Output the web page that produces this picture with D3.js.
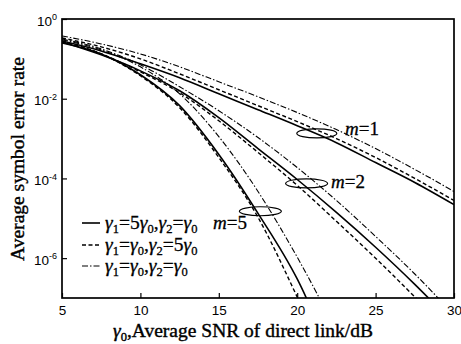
<!DOCTYPE html>
<html>
<head>
<meta charset="utf-8">
<script src="https://cdn.jsdelivr.net/npm/d3@7"></script>
<style>
  body { margin: 0; background: #fff; }
  svg { display: block; }
</style>
</head>
<body>
<div id="chart"></div>
<script>
// SNR of the direct link (dB)
var snr = [5, 7.5, 10, 12.5, 15, 17.5, 20, 22.5, 25, 27.5, 30];

// average SER, per fading parameter m
var m1Solid   = [0.28, 0.158, 0.075, 0.0335, 0.0133, 5.3e-3, 2.1e-3, 7.9e-4, 2.5e-4, 7.9e-5, 2.2e-5];
var m1Dashed  = [0.335, 0.2, 0.1, 0.042, 0.0168, 6.7e-3, 2.66e-3, 1.0e-3, 3.35e-4, 1.0e-4, 2.8e-5];
var m1DashDot = [0.376, 0.237, 0.133, 0.063, 0.0266, 0.0112, 4.5e-3, 1.68e-3, 5.6e-4, 1.68e-4, 4.7e-5];

var m2Solid   = [0.266, 0.126, 0.05, 0.0158, 3.35e-3, 5.6e-4, 9.4e-5, 1.41e-5, 1.88e-6, 2.2e-7, 2.2e-8];
var m2Dashed  = [0.28, 0.133, 0.047, 0.0141, 2.8e-3, 4.5e-4, 6.7e-5, 8.4e-6, 1.0e-6, 1.06e-7, 1.06e-8];
var m2DashDot = [0.316, 0.178, 0.0708, 0.02, 5.0e-3, 1.06e-3, 1.88e-4, 2.8e-5, 3.5e-6, 4.0e-7, 3.8e-8];

var m5Solid   = [0.25, 0.133, 0.04, 6.7e-3, 4.0e-4, 1.33e-5, 3.0e-7, 1.8e-9];
var m5Dashed  = [0.266, 0.133, 0.0376, 5.96e-3, 3.35e-4, 1.06e-5, 1.06e-7, 7e-10];
var m5DashDot = [0.3, 0.168, 0.063, 0.0133, 1.12e-3, 4.7e-5, 1.06e-6, 1.5e-8];

var xTicks = [5, 10, 15, 20, 25, 30];
var yTicks = [1, 1e-2, 1e-4, 1e-6];
var yTickExp = ["0", "-2", "-4", "-6"];

var width = 461, height = 344;
var padL = 62, padR = 454, padT = 19, padB = 298;

var svg = d3.select("#chart").append("svg")
    .attr("width", width)
    .attr("height", height);

var x = d3.scaleLinear().domain([5, 30]).range([padL, padR]);
var y = d3.scaleLog().domain([1e-7, 1]).range([padB, padT]);

svg.append("clipPath").attr("id", "plot")
  .append("rect")
    .attr("x", padL).attr("y", padT)
    .attr("width", padR - padL).attr("height", padB - padT);

var styles = {
  solid:   { dash: null,           w: 1.6 },
  dashed:  { dash: "4,2.5",        w: 1.4 },
  dashdot: { dash: "6,2,1.5,2",    w: 1.1 }
};

var series = [
  { v: m1Solid, s: "solid" }, { v: m1Dashed, s: "dashed" }, { v: m1DashDot, s: "dashdot" },
  { v: m2Solid, s: "solid" }, { v: m2Dashed, s: "dashed" }, { v: m2DashDot, s: "dashdot" },
  { v: m5Solid, s: "solid" }, { v: m5Dashed, s: "dashed" }, { v: m5DashDot, s: "dashdot" }
];

var line = d3.line()
    .x(function(d) { return x(d[0]); })
    .y(function(d) { return y(d[1]); })
    .curve(d3.curveMonotoneX);

svg.append("g")
    .attr("clip-path", "url(#plot)")
  .selectAll("path")
  .data(series)
  .enter().append("path")
    .attr("d", function(d) {
      return line(d.v.map(function(v, i) { return [snr[i], v]; }));
    })
    .attr("fill", "none")
    .attr("stroke", "#000")
    .attr("stroke-width", function(d) { return styles[d.s].w; })
    .attr("stroke-dasharray", function(d) { return styles[d.s].dash; });

// axes, ticks pointing inward
var xAxis = svg.append("g")
    .attr("transform", "translate(0," + padB + ")")
    .call(d3.axisBottom(x).tickValues(xTicks).tickSize(-5).tickPadding(7));
xAxis.select(".domain").remove();
xAxis.selectAll("line").attr("stroke-width", 1.2);
xAxis.selectAll("text")
    .attr("font-family", "Liberation Sans, Arial, sans-serif")
    .attr("font-size", 13.5)
    .attr("fill", "#000");

var yAxis = svg.append("g")
    .attr("transform", "translate(" + padL + ",0)")
    .call(d3.axisLeft(y).tickValues(yTicks).tickSize(-5).tickFormat(""));
yAxis.select(".domain").remove();
yAxis.selectAll("line").attr("stroke-width", 1.2);

yAxis.selectAll(".tick").append("text")
    .attr("x", -5)
    .attr("dy", "0.45em")
    .attr("text-anchor", "end")
    .attr("font-family", "Liberation Sans, Arial, sans-serif")
    .attr("font-size", 13.5)
    .attr("fill", "#000")
    .each(function(d, i) {
      var t = d3.select(this);
      t.append("tspan").text("10");
      t.append("tspan").attr("font-size", 9).attr("dy", "-0.6em").text(yTickExp[i]);
    });

svg.append("rect")
    .attr("x", padL).attr("y", padT)
    .attr("width", padR - padL).attr("height", padB - padT)
    .attr("fill", "none")
    .attr("stroke", "#000")
    .attr("stroke-width", 1.7);

// axis titles (thin outline makes Times look like the heavier original)
var serif = "Liberation Serif, Times New Roman, serif";

svg.append("text")
    .attr("transform", "translate(24,159) rotate(-90)")
    .attr("text-anchor", "middle")
    .attr("font-family", serif)
    .attr("font-size", 19.5)
    .attr("fill", "#000")
    .attr("stroke", "#000")
    .attr("stroke-width", 0.4)
    .text("Average symbol error rate");

var xl = svg.append("text")
    .attr("x", 243).attr("y", 337)
    .attr("text-anchor", "middle")
    .attr("font-family", serif)
    .attr("font-size", 19.5)
    .attr("fill", "#000")
    .attr("stroke", "#000")
    .attr("stroke-width", 0.4);
xl.append("tspan").attr("font-style", "italic").text("γ");
xl.append("tspan").attr("font-size", 12.5).attr("dy", 4).text("0");
xl.append("tspan").attr("dy", -4).text(",Average SNR of direct link/dB");

// gamma expressions built from tspans
function gammaText(sel, parts) {
  parts.forEach(function(p) {
    if (p[1] === "g") sel.append("tspan").attr("font-style", "italic").text(p[0]);
    else if (p[1] === "sub") sel.append("tspan").attr("font-size", 12.5).attr("dy", 4).text(p[0]);
    else if (p[1] === "up") sel.append("tspan").attr("dy", -4).text(p[0]);
    else sel.append("tspan").text(p[0]);
  });
}

var legendRows = [
  { s: "solid",   y: 223, parts: [["γ","g"],["1","sub"],["=5","up"],["γ","g"],["0","sub"],[",","up"],["γ","g"],["2","sub"],["=","up"],["γ","g"],["0","sub"]] },
  { s: "dashed",  y: 245, parts: [["γ","g"],["1","sub"],["=","up"],["γ","g"],["0","sub"],[",","up"],["γ","g"],["2","sub"],["=5","up"],["γ","g"],["0","sub"]] },
  { s: "dashdot", y: 266, parts: [["γ","g"],["1","sub"],["=","up"],["γ","g"],["0","sub"],[",","up"],["γ","g"],["2","sub"],["=","up"],["γ","g"],["0","sub"]] }
];

legendRows.forEach(function(r) {
  svg.append("line")
      .attr("x1", 82).attr("x2", 100)
      .attr("y1", r.y).attr("y2", r.y)
      .attr("stroke", "#000")
      .attr("stroke-width", styles[r.s].w)
      .attr("stroke-dasharray", styles[r.s].dash);
  var t = svg.append("text")
      .attr("x", 105).attr("y", r.y + 6)
      .attr("font-family", serif)
      .attr("font-size", 19.5)
      .attr("fill", "#000")
      .attr("stroke", "#000")
      .attr("stroke-width", 0.3);
  gammaText(t, r.parts);
});

// m labels and ellipses
var mLabels = [
  { name: "1", ex: 21.25, ey: 1.35e-3, rx: 20, ry: 4.5, tx: 345, ty: 135 },
  { name: "2", ex: 20.6,  ey: 7.5e-5,  rx: 21, ry: 4.5, tx: 331, ty: 188 },
  { name: "5", ex: 17.65, ey: 1.5e-5,  rx: 21, ry: 4.5, tx: 213, ty: 229 }
];

mLabels.forEach(function(m) {
  svg.append("ellipse")
      .attr("cx", x(m.ex)).attr("cy", y(m.ey))
      .attr("rx", m.rx).attr("ry", m.ry)
      .attr("fill", "none")
      .attr("stroke", "#000")
      .attr("stroke-width", 1.2);
  var t = svg.append("text")
      .attr("x", m.tx).attr("y", m.ty)
      .attr("font-family", serif)
      .attr("font-size", 19)
      .attr("fill", "#000")
      .attr("stroke", "#000")
      .attr("stroke-width", 0.3);
  t.append("tspan").attr("font-style", "italic").text("m");
  t.append("tspan").text("=" + m.name);
});
</script>
</body>
</html>
